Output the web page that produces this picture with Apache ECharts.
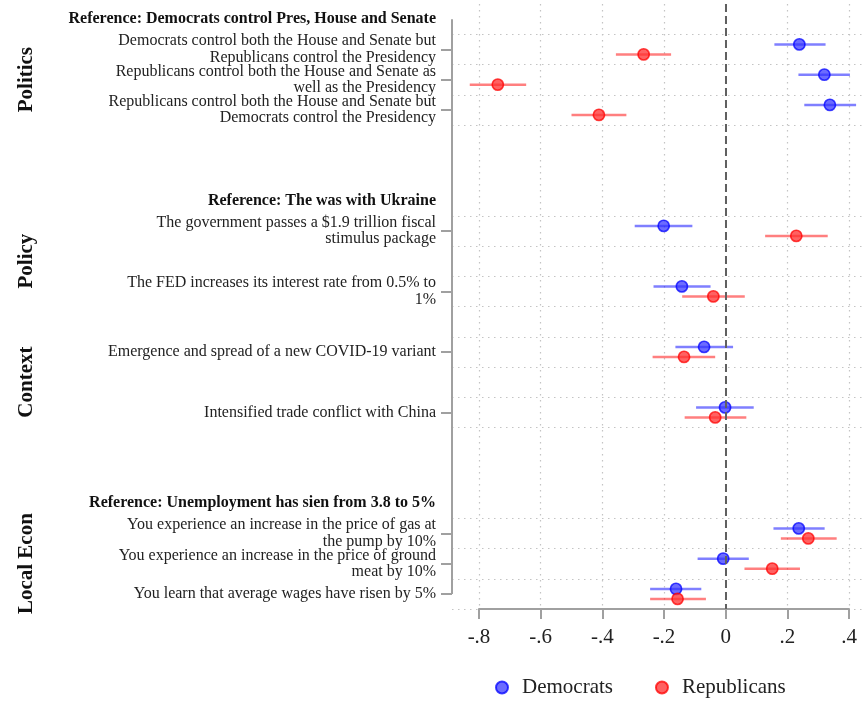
<!DOCTYPE html>
<html><head><meta charset="utf-8">
<script src="https://cdn.jsdelivr.net/npm/echarts@6/dist/echarts.min.js"></script>
<style>html,body{margin:0;padding:0;background:#fff}#c{width:864px;height:702px}</style>
</head><body><div id="c"></div>
<script>
// ---- data ----
const rows = [
  'Reference: Democrats control Pres, House and Senate',
  'Democrats control both the House and Senate but\nRepublicans control the Presidency',
  'Republicans control both the House and Senate as\nwell as the Presidency',
  'Republicans control both the House and Senate but\nDemocrats control the Presidency',
  '',
  '',
  'Reference: The was with Ukraine',
  'The government passes a $1.9 trillion fiscal\nstimulus package',
  '',
  'The FED increases its interest rate from 0.5% to\n1%',
  '',
  'Emergence and spread of a new COVID-19 variant',
  '',
  'Intensified trade conflict with China',
  '',
  '',
  'Reference: Unemployment has sien from 3.8 to 5%',
  'You experience an increase in the price of gas at\nthe pump by 10%',
  'You experience an increase in the price of ground\nmeat by 10%',
  'You learn that average wages have risen by 5%'
];
const headerRows = [0, 6, 16];
const estRows = [1, 2, 3, 7, 9, 11, 13, 17, 18, 19];

const demEst = [0.239, 0.320, 0.338, -0.201, -0.142, -0.070, -0.002, 0.237, -0.008, -0.161];
const demLo  = [0.158, 0.236, 0.255, -0.295, -0.234, -0.163, -0.096, 0.155, -0.091, -0.245];
const demHi  = [0.324, 0.403, 0.423, -0.108, -0.049, 0.024, 0.091, 0.321, 0.075, -0.079];

const repEst = [-0.266, -0.739, -0.411, 0.229, -0.040, -0.135, -0.034, 0.268, 0.151, -0.156];
const repLo  = [-0.356, -0.830, -0.500, 0.128, -0.141, -0.237, -0.133, 0.179, 0.061, -0.245];
const repHi  = [-0.177, -0.647, -0.322, 0.331, 0.062, -0.034, 0.067, 0.360, 0.241, -0.064];

const seriesNames = ['Democrats', 'Republicans'];
const groups = ['Politics', 'Policy', 'Context', 'Local Econ'];
const groupRows = [[1, 3], [7, 9], [11, 13], [17, 19]];
const xMin = -0.8, xMax = 0.4, xStep = 0.2;

// ---- chart ----
const FONT = '"Liberation Serif", "DejaVu Serif", serif';
const isData = i => estRows.indexOf(i) >= 0;
const cats = rows.map((_, i) => String(i));

function fmtTick(v) {
  const r = Math.round(v * 10) / 10;
  if (r === 0) return '0';
  return String(r).replace('0.', '.');
}

function makeRender(dy, lineColor, fill, stroke) {
  return function (params, api) {
    const row = api.value(3);
    const pl = api.coord([api.value(1), row]);
    const ph = api.coord([api.value(2), row]);
    const pe = api.coord([api.value(0), row]);
    return {
      type: 'group',
      children: [
        { type: 'line', shape: { x1: pl[0], y1: pl[1] + dy, x2: ph[0], y2: ph[1] + dy },
          style: { stroke: lineColor, lineWidth: 2.5 } },
        { type: 'circle', shape: { cx: pe[0], cy: pe[1] + dy, r: 5.6 },
          style: { fill: fill, stroke: stroke, lineWidth: 1.6 } }
      ]
    };
  };
}

const demData = demEst.map((v, i) => [v, demLo[i], demHi[i], estRows[i]]);
const repData = repEst.map((v, i) => [v, repLo[i], repHi[i], estRows[i]]);

const demFill = 'rgba(45,45,255,0.7)', demStroke = 'rgba(0,0,255,0.75)', demLine = 'rgba(0,0,255,0.5)';
const repFill = 'rgba(255,45,45,0.75)', repStroke = 'rgba(255,0,0,0.75)', repLine = 'rgba(255,0,0,0.5)';

const gridStyle = { color: '#c4c4c4', type: [1.5, 4.5], width: 1.2 };

const chart = echarts.init(document.getElementById('c'), null, { renderer: 'canvas' });
chart.setOption({
  animation: false,
  backgroundColor: '#fff',
  grid: [
    { left: 452, right: 0, top: 4, bottom: 93 },
    { left: 479, right: 15, top: 4, bottom: 93 }
  ],
  xAxis: [
    { type: 'value', gridIndex: 0, min: 0, max: 1, show: false },
    { type: 'value', gridIndex: 1, min: xMin, max: xMax, interval: xStep,
      axisLine: { show: true, onZero: false, lineStyle: { color: '#a0a0a0', width: 2 } },
      axisTick: { show: true, length: 10, lineStyle: { color: '#a0a0a0', width: 2 } },
      axisLabel: { margin: 18, fontFamily: FONT, fontSize: 21, color: '#222', formatter: fmtTick },
      splitLine: { show: true, lineStyle: gridStyle } }
  ],
  yAxis: [
    { type: 'category', gridIndex: 0, data: cats, inverse: true, boundaryGap: true,
      axisLine: { show: false },
      axisTick: { show: true, alignWithLabel: true, length: 11, interval: (i) => isData(i),
        lineStyle: { color: '#a0a0a0', width: 2 } },
      axisLabel: { show: true, interval: 0, margin: 16, fontFamily: FONT, fontSize: 16, lineHeight: 16.5,
        color: '#222', align: 'right',
        formatter: (v, i) => headerRows.indexOf(i) >= 0 ? '{b|' + rows[i] + '}' : rows[i],
        rich: { b: { fontWeight: 'bold', fontFamily: FONT, fontSize: 16, color: '#111' } } },
      splitLine: { show: true, interval: (i) => isData(i) || isData(i - 1), lineStyle: gridStyle } },
    { type: 'category', gridIndex: 1, data: cats, inverse: true, show: false }
  ],
  legend: {
    data: seriesNames, left: 490, top: 672, icon: 'circle', itemWidth: 30, itemHeight: 12, itemGap: 42,
    textStyle: { fontFamily: FONT, fontSize: 21, color: '#222' }
  },
  series: [
    { type: 'line', xAxisIndex: 0, yAxisIndex: 0, silent: true, symbol: 'none',
      data: [[0, cats[0]], [0, cats[cats.length - 1]]],
      lineStyle: { color: '#a0a0a0', width: 2 } },
    { type: 'scatter', xAxisIndex: 1, yAxisIndex: 1, data: [], z: 1, silent: true,
      markLine: { silent: true, symbol: 'none', label: { show: false },
        lineStyle: { color: '#606060', type: [8, 4], width: 2 }, data: [{ xAxis: 0 }] } },
    { name: seriesNames[0], type: 'custom', xAxisIndex: 1, yAxisIndex: 1, clip: false, z: 3,
      encode: { x: [0, 1, 2], y: 3 },
      itemStyle: { color: demFill, borderColor: demStroke, borderWidth: 1.6 },
      renderItem: makeRender(-5, demLine, demFill, demStroke), data: demData },
    { name: seriesNames[1], type: 'custom', xAxisIndex: 1, yAxisIndex: 1, clip: false, z: 3,
      encode: { x: [0, 1, 2], y: 3 },
      itemStyle: { color: repFill, borderColor: repStroke, borderWidth: 1.6 },
      renderItem: makeRender(5, repLine, repFill, repStroke), data: repData }
  ]
});

const gEls = groups.map((g, k) => {
  const ya = chart.convertToPixel({ yAxisIndex: 0 }, cats[groupRows[k][0]]);
  const yb = chart.convertToPixel({ yAxisIndex: 0 }, cats[groupRows[k][1]]);
  return {
    type: 'text', x: 27, y: (ya + yb) / 2, rotation: Math.PI / 2,
    style: { text: g, fontFamily: FONT, fontWeight: 'bold', fontSize: 21, fill: '#111',
      align: 'center', verticalAlign: 'middle' }
  };
});
chart.setOption({ graphic: gEls });
</script>
</body></html>
